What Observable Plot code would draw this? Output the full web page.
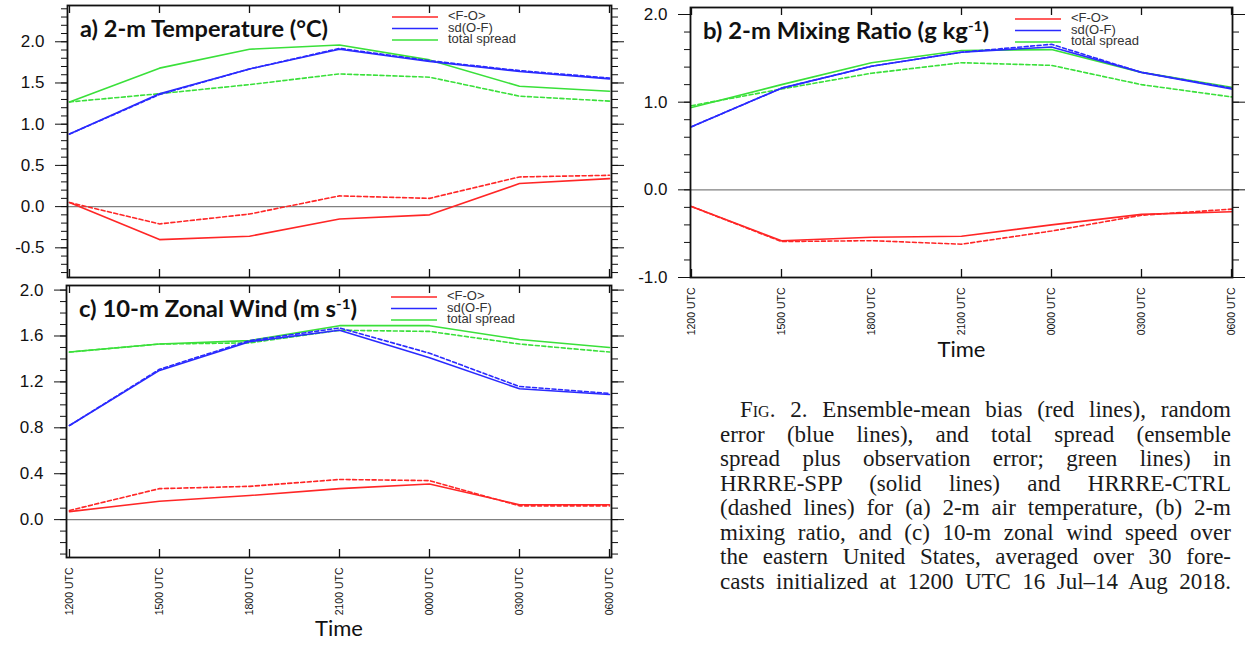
<!DOCTYPE html>
<html><head><meta charset="utf-8">
<script src="https://cdn.jsdelivr.net/npm/d3@7"></script>
<script src="https://cdn.jsdelivr.net/npm/@observablehq/plot@0.6"></script>
<style>
html,body{margin:0;padding:0;background:#fff;}
#root{position:relative;width:1249px;height:647px;overflow:hidden;background:#fff;}
.panel{position:absolute;}
.panel svg{overflow:visible;}
#caption{position:absolute;left:720px;top:398px;width:511px;font-family:"Liberation Serif","Times New Roman",serif;font-size:23px;line-height:24.5px;color:#1a1a1a;}
#caption .ln{display:block;text-align:justify;text-align-last:justify;white-space:nowrap;}
#caption .first{padding-left:20px;}
#caption .sc{font-variant:small-caps;}
</style>
</head><body>
<div id="root">
  <div id="pa" class="panel" style="left:0;top:0"></div>
  <div id="pb" class="panel" style="left:620px;top:0"></div>
  <div id="pc" class="panel" style="left:0;top:280px"></div>
  <div id="caption">
    <div class="ln first"><span class="sc">Fig.</span> 2. Ensemble-mean bias (red lines), random</div>
    <div class="ln">error (blue lines), and total spread (ensemble</div>
    <div class="ln">spread plus observation error; green lines) in</div>
    <div class="ln">HRRRE-SPP (solid lines) and HRRRE-CTRL</div>
    <div class="ln">(dashed lines) for (a) 2-m air temperature, (b) 2-m</div>
    <div class="ln">mixing ratio, and (c) 10-m zonal wind speed over</div>
    <div class="ln">the eastern United States, averaged over 30 fore-</div>
    <div class="ln">casts initialized at 1200 UTC 16 Jul–14 Aug 2018.</div>
  </div>
</div>
<script>
// ---------- data ----------
const times = ["1200 UTC","1500 UTC","1800 UTC","2100 UTC","0000 UTC","0300 UTC","0600 UTC"];
const legendLabels = ["<F-O>", "sd(O-F)", "total spread"];

// (a) 2-m temperature
const tempBiasSPP    = [0.05, -0.40, -0.36, -0.15, -0.10, 0.28, 0.34];
const tempBiasCTRL   = [0.05, -0.21, -0.09, 0.13, 0.10, 0.36, 0.38];
const tempSdSPP      = [0.88, 1.37, 1.67, 1.91, 1.76, 1.64, 1.55];
const tempSdCTRL     = [0.88, 1.36, 1.67, 1.92, 1.77, 1.65, 1.56];
const tempSpreadSPP  = [1.27, 1.68, 1.91, 1.96, 1.78, 1.46, 1.40];
const tempSpreadCTRL = [1.27, 1.37, 1.48, 1.61, 1.57, 1.34, 1.28];

// (b) 2-m mixing ratio
const mixBiasSPP    = [-0.19, -0.58, -0.54, -0.53, -0.40, -0.28, -0.25];
const mixBiasCTRL   = [-0.19, -0.59, -0.58, -0.62, -0.47, -0.29, -0.22];
const mixSdSPP      = [0.72, 1.16, 1.41, 1.57, 1.63, 1.34, 1.15];
const mixSdCTRL     = [0.72, 1.16, 1.41, 1.57, 1.66, 1.34, 1.16];
const mixSpreadSPP  = [0.94, 1.20, 1.45, 1.59, 1.60, 1.34, 1.17];
const mixSpreadCTRL = [0.96, 1.15, 1.33, 1.45, 1.42, 1.20, 1.06];

// (c) 10-m zonal wind
const windBiasSPP    = [0.07, 0.16, 0.21, 0.27, 0.31, 0.13, 0.13];
const windBiasCTRL   = [0.08, 0.27, 0.29, 0.35, 0.34, 0.12, 0.12];
const windSdSPP      = [0.82, 1.30, 1.55, 1.65, 1.41, 1.14, 1.09];
const windSdCTRL     = [0.82, 1.31, 1.56, 1.67, 1.45, 1.16, 1.10];
const windSpreadSPP  = [1.46, 1.53, 1.56, 1.69, 1.69, 1.57, 1.50];
const windSpreadCTRL = [1.46, 1.53, 1.54, 1.65, 1.64, 1.53, 1.46];

// tick values
const tempMajor = [-0.5, 0, 0.5, 1.0, 1.5, 2.0];
const tempMinor = d3.range(-8, 25).map(i => i / 10);
const mixMajor = [-1.0, 0, 1.0, 2.0];
const mixMinor = d3.range(-10, 21, 2).map(i => i / 10);
const windMajor = [0, 0.4, 0.8, 1.2, 1.6, 2.0];
const windMinor = d3.range(-3, 21).map(i => i / 10);

// ---------- style ----------
const RED = "#ff2626", BLUE = "#2a2aff", GREEN = "#3ae03a";
const AXIS_FONT = "'Liberation Sans', Arial, sans-serif";
const TITLE_FONT = "Lato, 'Open Sans', sans-serif";

function makePanel(cfg) {
  const {el, width, height, ml, mr, mt, mb, domain, major, minor, series, showX, title, titleLen} = cfg;
  const fh = height - mt - mb;
  const marks = [
    Plot.ruleY([0], {stroke: "#808080", strokeWidth: 1.3}),
    ...series.map(s => Plot.line(s.values, {
      x: (d, i) => times[i], y: d => d,
      stroke: s.color, strokeWidth: 1.6,
      strokeDasharray: s.dash ? "4,2.5" : null
    })),
    Plot.axisY(minor, {anchor: "left", tickSize: 6, fill: "none", label: null, stroke: "#111"}),
    Plot.axisY(major, {anchor: "left", tickSize: 12, tickPadding: 11, tickFormat: d => d.toFixed(1),
      fontSize: 17, label: null, stroke: "#111", fill: "#111"}),
    Plot.axisY(minor, {anchor: "right", tickSize: 6, fill: "none", label: null, stroke: "#111"}),
    Plot.axisY(major, {anchor: "right", tickSize: 12, fill: "none", label: null, stroke: "#111"}),
    Plot.tickX(times, {x: d => d, insetTop: fh - 8, stroke: "#111", strokeWidth: 1.3}),
    Plot.tickX(times, {x: d => d, insetBottom: fh - 8, stroke: "#111", strokeWidth: 1.3}),
    Plot.frame({stroke: "#111", strokeWidth: 1.8})
  ];
  if (showX) {
    marks.push(
      Plot.axisX(times, {anchor: "bottom", tickSize: 0, tickPadding: 10, tickRotate: -90,
        fontSize: 10.5, label: null, fill: "#111"}),
      Plot.text(["Time"], {frameAnchor: "bottom", dy: showX, fontSize: 22,
        fontFamily: TITLE_FONT, fill: "#111"})
    );
  }
  const svg = Plot.plot({
    width, height,
    marginLeft: ml, marginRight: mr, marginTop: mt, marginBottom: mb,
    style: {fontFamily: AXIS_FONT, background: "transparent", overflow: "visible"},
    x: {type: "point", domain: times, padding: 0, axis: null},
    y: {domain, axis: null, label: null},
    marks
  });
  const s = d3.select(svg);
  // title
  const t = s.append("text")
    .attr("x", ml + 13).attr("y", mt + 32)
    .attr("text-anchor", "start")
    .attr("font-family", TITLE_FONT).attr("font-weight", 700).attr("font-size", 22)
    .attr("fill", "#111")
    .attr("textLength", titleLen).attr("lengthAdjust", "spacingAndGlyphs");
  title.forEach(part => {
    const ts = t.append("tspan").text(part.text);
    if (part.sup) ts.attr("baseline-shift", "super").attr("font-size", 14);
  });
  // legend
  const cols = [RED, BLUE, GREEN];
  const g = s.append("g").attr("text-anchor", "start");
  legendLabels.forEach((lab, i) => {
    const y = mt + 12 + i * 11.5;
    g.append("line").attr("x1", ml + 325).attr("x2", ml + 371).attr("y1", y).attr("y2", y)
      .attr("stroke", cols[i]).attr("stroke-width", 1.6);
    g.append("text").attr("x", ml + 381).attr("y", y - 1).attr("dy", "0.32em")
      .attr("font-family", AXIS_FONT).attr("font-size", 13).attr("fill", "#333").text(lab);
  });
  document.getElementById(el).appendChild(svg);
}

makePanel({
  el: "pa", width: 625, height: 282, ml: 67, mr: 14, mt: 5, mb: 5,
  domain: [-0.86, 2.44], major: tempMajor, minor: tempMinor, showX: 0,
  title: [{text: "a) 2-m Temperature (°C)"}], titleLen: 248,
  series: [
    {values: tempSpreadCTRL, color: GREEN, dash: true},
    {values: tempSpreadSPP, color: GREEN},
    {values: tempSdCTRL, color: BLUE, dash: true},
    {values: tempSdSPP, color: BLUE},
    {values: tempBiasCTRL, color: RED, dash: true},
    {values: tempBiasSPP, color: RED}
  ]
});
makePanel({
  el: "pb", width: 629, height: 370, ml: 70, mr: 17, mt: 7, mb: 93,
  domain: [-1.0, 2.08], major: mixMajor, minor: mixMinor, showX: 79,
  title: [{text: "b) 2-m Mixing Ratio (g kg"}, {text: "-1", sup: true}, {text: ")"}], titleLen: 286,
  series: [
    {values: mixSpreadCTRL, color: GREEN, dash: true},
    {values: mixSpreadSPP, color: GREEN},
    {values: mixSdCTRL, color: BLUE, dash: true},
    {values: mixSdSPP, color: BLUE},
    {values: mixBiasCTRL, color: RED, dash: true},
    {values: mixBiasSPP, color: RED}
  ]
});
makePanel({
  el: "pc", width: 625, height: 367, ml: 66, mr: 14, mt: 5, mb: 90,
  domain: [-0.33, 2.04], major: windMajor, minor: windMinor, showX: 78,
  title: [{text: "c) 10-m Zonal Wind (m s"}, {text: "-1", sup: true}, {text: ")"}], titleLen: 278,
  series: [
    {values: windSpreadCTRL, color: GREEN, dash: true},
    {values: windSpreadSPP, color: GREEN},
    {values: windSdCTRL, color: BLUE, dash: true},
    {values: windSdSPP, color: BLUE},
    {values: windBiasCTRL, color: RED, dash: true},
    {values: windBiasSPP, color: RED}
  ]
});
</script>
</body></html>
